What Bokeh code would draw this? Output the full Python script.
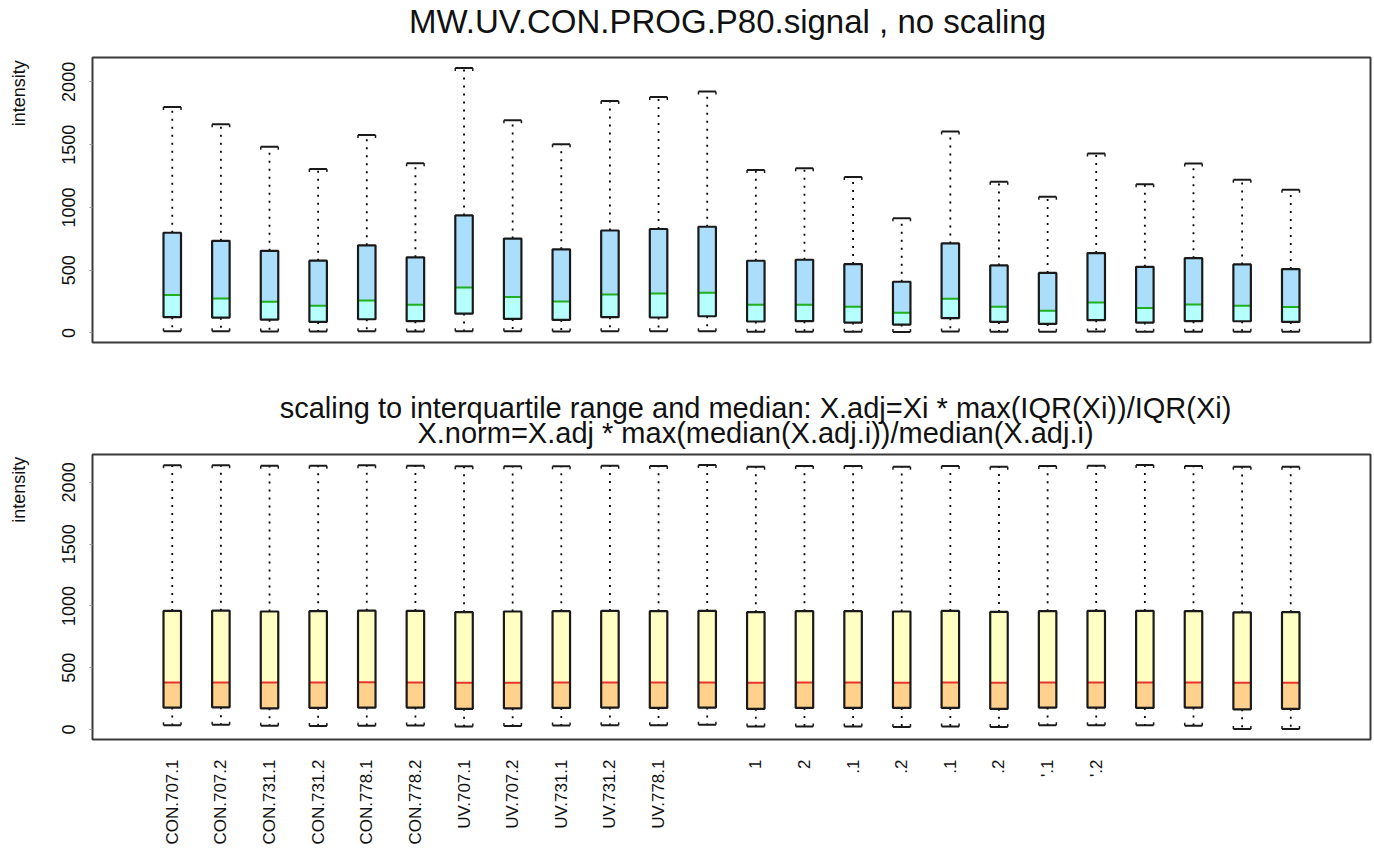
import numpy as np
from bokeh.plotting import figure
from bokeh.models import Range1d, FixedTicker
from bokeh.core.properties import value
from bokeh.layouts import column, row
from bokeh.embed import file_html
from bokeh.resources import INLINE

# ---------------- data ----------------
tick_labels = ["CON.707.1", "CON.707.2", "CON.731.1", "CON.731.2", "CON.778.1", "CON.778.2",
               "UV.707.1", "UV.707.2", "UV.731.1", "UV.731.2", "UV.778.1", "",
               "1", "2", ".1", ".2", ".1", ".2", "'.1", "'.2", "", "", "", ""]

raw_upper = [1800, 1662, 1483, 1305, 1577, 1352, 2110, 1695, 1503, 1848, 1880, 1924,
             1298, 1312, 1243, 914, 1605, 1205, 1084, 1430, 1185, 1350, 1220, 1140]
raw_q3 = [798, 734, 654, 576, 698, 602, 936, 752, 666, 816, 828, 846,
          575, 583, 549, 408, 713, 538, 478, 636, 527, 596, 546, 509]
raw_median = [302, 275, 248, 216, 259, 224, 363, 286, 251, 307, 315, 320,
              224, 224, 208, 160, 272, 208, 176, 243, 198, 227, 216, 206]
raw_q1 = [126, 122, 106, 88, 109, 94, 154, 112, 104, 126, 123, 133,
          91, 94, 83, 67, 118, 88, 72, 102, 83, 94, 93, 88]
raw_lower = [14, 13, 12, 12, 13, 12, 14, 13, 12, 13, 13, 14,
             10, 10, 10, 8, 12, 10, 9, 11, 10, 10, 10, 10]

norm_upper = [2138, 2138, 2135, 2135, 2138, 2135, 2130, 2130, 2130, 2135, 2132, 2140,
              2127, 2132, 2132, 2127, 2132, 2127, 2132, 2135, 2140, 2132, 2127, 2127]
norm_q3 = [960, 962, 955, 958, 962, 960, 950, 955, 958, 960, 958, 960,
           950, 958, 958, 955, 960, 952, 958, 960, 960, 958, 948, 950]
norm_median = [381, 380, 380, 381, 382, 380, 378, 379, 380, 381, 380, 381,
               379, 380, 380, 379, 381, 379, 380, 381, 380, 380, 378, 379]
norm_q1 = [178, 180, 172, 176, 178, 178, 168, 172, 175, 178, 175, 178,
           168, 175, 175, 175, 175, 168, 178, 178, 175, 178, 164, 168]
norm_lower = [35, 38, 30, 28, 30, 32, 25, 28, 32, 35, 35, 38,
              25, 25, 25, 21, 25, 21, 35, 35, 35, 30, 5, 5]

y_ticks = [0, 500, 1000, 1500, 2000]
title_top = "MW.UV.CON.PROG.P80.signal , no scaling"
title_bottom_1 = "scaling to interquartile range and median: X.adj=Xi * max(IQR(Xi))/IQR(Xi)"
title_bottom_2 = "X.norm=X.adj * max(median(X.adj.i))/median(X.adj.i)"
y_label = "intensity"

# ---------------- layout constants ----------------
W = 1374
LW = 40                # width of the strip holding the y-axis name
FRAME_H = 285
FONT = "Liberation Sans"
TXT = "#111111"
BOX_W = 0.36
X0, X1 = -0.64, 25.64
x = np.arange(1, len(raw_q3) + 1)


def blank(width, height):
    """Plain canvas with pixel coordinates (origin bottom-left) for free text."""
    f = figure(width=width, height=height, output_backend="svg", toolbar_location=None,
               x_range=Range1d(0, width), y_range=Range1d(0, height),
               x_axis_location=None, y_axis_location=None, min_border=0,
               background_fill_color="white", border_fill_color="white")
    f.outline_line_color = None
    f.grid.visible = False
    return f


def put_text(f, x_px, mid_px, text, size, angle=0.0, align="center"):
    f.text(x=[x_px], y=[f.height - mid_px], text=[text], angle=angle,
           text_align=align, text_baseline="middle", text_font=value(FONT),
           text_font_size=size, text_color=TXT)


def yrange(lower, upper):
    lo, hi = min(lower), max(upper)
    pad = 0.04 * (hi - lo)
    return Range1d(lo - pad, hi + pad)


def make_fig(height, bot_b, lower, upper):
    p = figure(width=W - LW, height=height, output_backend="svg", toolbar_location=None,
               x_range=Range1d(X0, X1), y_range=yrange(lower, upper),
               min_border_left=92 - LW, min_border_right=4,
               min_border_top=2, min_border_bottom=bot_b,
               background_fill_color="white", border_fill_color="white")
    p.grid.visible = False
    p.outline_line_color = "#3a3a3a"
    p.outline_line_width = 2
    p.yaxis.ticker = FixedTicker(ticks=y_ticks)
    p.yaxis.major_label_orientation = "vertical"
    p.yaxis.axis_line_color = None
    p.yaxis.major_tick_line_color = "#999999"
    p.yaxis.major_tick_out = 3
    p.yaxis.major_tick_in = 0
    p.yaxis.minor_tick_line_color = None
    p.yaxis.major_label_text_font = FONT
    p.yaxis.major_label_text_font_size = "18px"
    p.yaxis.major_label_text_color = TXT
    p.yaxis.major_label_standoff = 14
    return p


def draw_boxes(p, lower, q1, med, q3, upper, c_hi, c_lo, c_med):
    span = p.y_range.end - p.y_range.start
    tick = 3.0 * span / FRAME_H
    hw = BOX_W / 2
    up_arr = np.array(upper)
    lo_arr = np.array(lower)
    # whiskers (dotted)
    p.segment(x0=x, y0=q3, x1=x, y1=upper, line_color="black", line_width=1.8, line_dash="2 6")
    p.segment(x0=x, y0=q1, x1=x, y1=lower, line_color="black", line_width=1.8, line_dash="2 6")
    # box halves
    p.vbar(x=x, width=BOX_W, bottom=med, top=q3, fill_color=c_hi, line_color=None)
    p.vbar(x=x, width=BOX_W, bottom=q1, top=med, fill_color=c_lo, line_color=None)
    p.segment(x0=x - hw, y0=med, x1=x + hw, y1=med, line_color=c_med, line_width=2)
    p.vbar(x=x, width=BOX_W, bottom=q1, top=q3, fill_color=None, line_color="#1a1a1a", line_width=2.2)
    # caps: brackets
    p.segment(x0=x - hw, y0=upper, x1=x + hw, y1=upper, line_color="#1a1a1a", line_width=2)
    p.segment(x0=x - hw, y0=up_arr, x1=x - hw, y1=up_arr - tick, line_color="#1a1a1a", line_width=1.5)
    p.segment(x0=x + hw, y0=up_arr, x1=x + hw, y1=up_arr - tick, line_color="#1a1a1a", line_width=1.5)
    p.segment(x0=x - hw, y0=lower, x1=x + hw, y1=lower, line_color="#1a1a1a", line_width=2)
    p.segment(x0=x - hw, y0=lo_arr, x1=x - hw, y1=lo_arr + tick, line_color="#1a1a1a", line_width=1.5)
    p.segment(x0=x + hw, y0=lo_arr, x1=x + hw, y1=lo_arr + tick, line_color="#1a1a1a", line_width=1.5)


# vertical budget: 55 + 317 + 80 + 396 = 848
T1_H, P1_H, T2_H, P2_H = 55, 317, 80, 396

# ---------------- top title ----------------
t1 = blank(W, T1_H)
put_text(t1, 727, 21, title_top, "33px")

# ---------------- top panel ----------------
p1 = make_fig(P1_H, P1_H - 2 - FRAME_H, raw_lower, raw_upper)
p1.xaxis.visible = False
draw_boxes(p1, raw_lower, raw_q1, raw_median, raw_q3, raw_upper,
           "#AADEFA", "#B5FFFD", "#1FAF1F")
l1 = blank(LW, P1_H)
put_text(l1, 18, 3, y_label, "18px", angle=np.pi / 2, align="right")

# ---------------- bottom title ----------------
t2 = blank(W, T2_H)
put_text(t2, 755, 35, title_bottom_1, "29px")
put_text(t2, 755, 60, title_bottom_2, "29px")

# ---------------- bottom panel ----------------
p2 = make_fig(P2_H, P2_H - 2 - FRAME_H, norm_lower, norm_upper)
p2.xaxis.ticker = FixedTicker(ticks=list(x))
p2.xaxis.major_label_overrides = {int(i): lab for i, lab in zip(x, tick_labels)}
p2.xaxis.major_label_orientation = np.pi / 2
p2.xaxis.axis_line_color = None
p2.xaxis.major_tick_line_color = None
p2.xaxis.minor_tick_line_color = None
p2.xaxis.major_label_text_font = FONT
p2.xaxis.major_label_text_font_size = "17px"
p2.xaxis.major_label_text_color = TXT
p2.xaxis.major_label_standoff = 14
draw_boxes(p2, norm_lower, norm_q1, norm_median, norm_q3, norm_upper,
           "#FFFFC4", "#FFD18C", "#E8332E")
l2 = blank(LW, P2_H)
put_text(l2, 18, 3, y_label, "18px", angle=np.pi / 2, align="right")

layout = column(t1, row(l1, p1, spacing=0), t2, row(l2, p2, spacing=0), spacing=0)
open("out.html", "w").write(file_html(layout, INLINE))
